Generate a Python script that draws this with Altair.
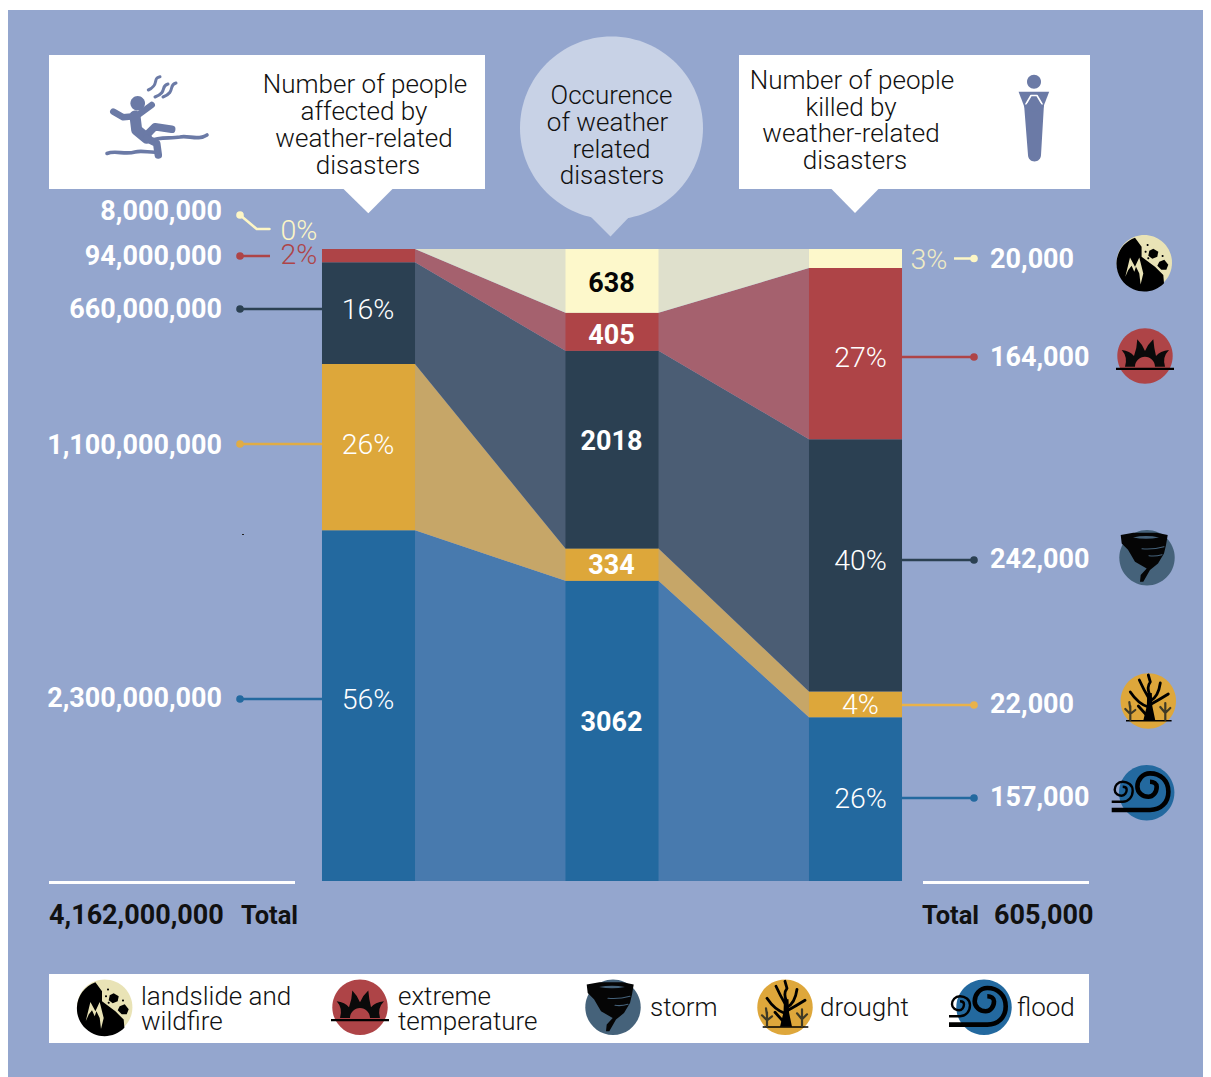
import altair as alt
import pandas as pd

# ---------- data ----------
categories = ["flood", "drought", "storm", "extreme temperature", "landslide and wildfire"]
affected_share = [55.5, 26.3, 16.1, 2.1, 0.0]
occurrence_share = [47.5, 5.1, 31.3, 6.0, 10.1]
killed_share = [25.9, 4.1, 39.9, 27.1, 3.0]
affected_labels = ["2,300,000,000", "1,100,000,000", "660,000,000", "94,000,000", "8,000,000"]
affected_pct = ["56%", "26%", "16%", "2%", "0%"]
occurrence_labels = ["3062", "334", "2018", "405", "638"]
killed_labels = ["157,000", "22,000", "242,000", "164,000", "20,000"]
killed_pct = ["26%", "4%", "40%", "27%", "3%"]

# ---------- styles and layout ----------
BG = "#94a6ce"
bar_colors = ["#23699f", "#dda73a", "#2b4052", "#ae4447", "#fdf8cb"]
band_colors = ["#487aae", "#c6a668", "#4b5d74", "#a5616e", "#dfe0cc"]
INK = "#111111"
ICON = "#6b7aa6"
FONT = "Roboto"
ONE = alt.Data(values=[{}])
HW = 0.191  # half a column, in column units
xs = alt.Scale(domain=[0, 2], range=[360.5, 847.5])
ys = alt.Scale(domain=[0, 100], range=[873, 241])

layers = []


def rect(x0, y0, x1, y1, color):
    layers.append(alt.Chart(ONE).mark_rect(color=color, opacity=1).encode(
        x=alt.value(x0 - 8), x2=alt.value(x1 - 8), y=alt.value(y0 - 8), y2=alt.value(y1 - 8)))


def fill(path, color, cx=0, cy=0):
    layers.append(alt.Chart(ONE).mark_point(shape=path, size=4, filled=True, fill=color, opacity=1).encode(
        x=alt.value(cx - 8), y=alt.value(cy - 8)))


def stroke(path, color, width, cx=0, cy=0, cap="round"):
    layers.append(alt.Chart(ONE).mark_point(shape=path, size=4, filled=False, stroke=color, strokeWidth=width,
                                            strokeCap=cap, strokeJoin="round", opacity=1).encode(
        x=alt.value(cx - 8), y=alt.value(cy - 8)))


def disc(cx, cy, r, color):
    fill(f"M{-r} 0A{r} {r} 0 1 1 {r} 0A{r} {r} 0 1 1 {-r} 0Z", color, cx, cy)


def text(rows, align="center", weight=300):
    df = pd.DataFrame(rows, columns=["t", "px", "py", "s", "c"])
    df["px"] -= 8
    df["py"] -= 7
    layers.append(alt.Chart(df).mark_text(font=FONT, fontWeight=weight, align=align, baseline="middle").encode(
        x=alt.X("px:Q", scale=None, axis=None),
        y=alt.Y("py:Q", scale=None, axis=None),
        text="t:N",
        size=alt.Size("s:Q", scale=None, legend=None),
        color=alt.Color("c:N", scale=None, legend=None)))


def leaders(rows):
    df = pd.DataFrame(rows, columns=["x0", "x1", "py", "c"])
    df[["x0", "x1", "py"]] -= 8
    layers.append(alt.Chart(df).mark_rule(strokeWidth=2.5).encode(
        x=alt.X("x0:Q", scale=None, axis=None), x2="x1:Q",
        y=alt.Y("py:Q", scale=None, axis=None),
        color=alt.Color("c:N", scale=None, legend=None)))


def dots(rows):
    df = pd.DataFrame(rows, columns=["px", "py", "c"])
    df[["px", "py"]] -= 8
    layers.append(alt.Chart(df).mark_circle(size=58, opacity=1).encode(
        x=alt.X("px:Q", scale=None, axis=None),
        y=alt.Y("py:Q", scale=None, axis=None),
        color=alt.Color("c:N", scale=None, legend=None)))


# ---------- icons ----------
def icon_landslide(cx, cy):
    disc(cx, cy, 27.7, "#e9e3b6")
    fill("M-9.3 -25L-2.7 -16L-2.7 -6L10.7 4L19 12.3L19.7 20.5A27.7 27.7 0 1 1 -9.3 -25Z", "#000000", cx, cy)
    fill("M5 -12L9 -14L14 -11L13 -6L8 -4L4 -7Z", "#000000", cx, cy)
    fill("M15 -1L20 -3L24 2L22 7L17 7L13 3Z", "#000000", cx, cy)
    for dx, dy, r in [(3.3, -17.7, 1), (1.3, -11, 1), (4, -4.5, 1), (18.3, -6.7, 1)]:
        disc(cx + dx, cy + dy, r, "#000000")
    fill("M-19 14L-14.3 -5.3L-9.3 4L-5 -5.3L-1 10.7L-3.7 21.7L-5 10.7L-8.3 4L-10 9L-12.7 3L-16 7.3Z", "#e9e3b6", cx, cy)


def icon_extreme(cx, cy):
    disc(cx, cy, 27.7, "#ae4447")
    fill("M-20 10.7Q-17 1 -23.3 -6Q-15 -5 -11 0Q-8 -8 -7.7 -16.7Q-3 -12 0 -5Q3 -12 8.3 -16.7Q9 -8 11 0Q15 -5 24 -6Q17 1 20 10.7L10 10.7A10 10 0 0 0 -10 10.7Z", "#0a0a0a", cx, cy)
    fill("M-29 11.7L29 11.7L29 14L-29 14Z", "#000000", cx, cy)


def icon_storm(cx, cy):
    disc(cx, cy, 27.7, "#45627a")
    fill("M-26.3 -22.7L-13.7 -25L9.7 -25L20.7 -22.7L19 -12.7L17 -4.3L11 5.7L3 12.3L-3.7 24L-7 24L-6.3 17.3L-0.3 10.7L-12 4L-19 -8L-25.3 -14.3Z", "#050505", cx, cy)
    fill("M-14 -20.3Q-1 -23 12 -20.3Q-1 -17.6 -14 -20.3Z", "#45627a", cx, cy)
    stroke("M-5 -9Q6 -8 17 -11M2 -2Q8 -1 15 -3", "#45627a", 1.1, cx, cy)


def icon_drought(cx, cy):
    disc(cx, cy, 27.7, "#dea73b")
    fill("M-22.3 19L23.3 19L23.3 20.5L-22.3 20.5Z", "#000000", cx, cy)
    fill("M-5 19.5L-1.5 5L-1 -8L3.5 -8L4 5L7 19.5Z", "#000000", cx, cy)
    stroke("M1.5 -6Q-2 -14 2 -19L0 -26M1 -2Q-5 -12 -9 -21M0 6Q-10 3 -18 -9M2 0Q10 -4 12 -18M3 3Q12 -2 20 -7M-1 15L-10 5", "#000000", 2.8, cx, cy)
    stroke("M-18 19L-18 5M-18 13L-23 8M-18 13L-13 9M-18 8L-19 1M17 19L17 2M17 12L12 6M17 12L22 7", "#3f3a26", 2.2, cx, cy)


def icon_flood(cx, cy):
    disc(cx, cy, 27.7, "#23699f")
    stroke("M-35 17.3L3.3 17.3C14 17.3 21.7 10 21.7 -1C21.7 -12 14 -19.3 3.3 -19.3C-4 -19.3 -9.3 -13 -9.3 -6C-9.3 0 -4 4 1.7 4C6 4 10 0 10 -6C10 -9 7 -11 3.3 -11", "#000000", 4.6, cx, cy, "butt")
    stroke("M-35 9L-24 9C-18 9 -14 4 -14 -2C-14 -8 -19 -11 -24 -11C-29 -11 -32 -7 -32 -3C-32 1 -28 3 -25 3C-22 3 -20 0 -20 -3C-20 -5 -22 -6 -24 -6", "#000000", 2.4, cx, cy, "butt")


# ---------- panels and callouts ----------
rect(6, 10, 1211, 1077, BG)
rect(49, 55, 485, 189, "#ffffff")
fill("M343 188.5L393 188.5L368.3 213.3Z", "#ffffff")
rect(739, 55, 1090, 189, "#ffffff")
fill("M831 188.5L879 188.5L855 213Z", "#ffffff")
disc(611.5, 128, 91.5, "#c8d2e6")
fill("M588 214L632 214L610.5 236.5Z", "#c8d2e6")
rect(49, 974, 1089, 1043, "#ffffff")
rect(49, 881, 295, 884, "#ffffff")
rect(923, 881, 1089, 884, "#ffffff")
rect(242, 534, 244, 535, "#222222")

# ---------- bands and stacked columns ----------
columns = [affected_share, occurrence_share, killed_share]
rows_band, rows_bar = [], []
for i, cat in enumerate(categories):
    stacks = [(sum(c[:i]), sum(c[:i + 1])) for c in columns]
    for x, (lo, hi) in zip([HW, 1 - HW, 1 + HW, 2 - HW], [stacks[0], stacks[1], stacks[1], stacks[2]]):
        rows_band.append({"cat": cat, "x": x, "lo": lo, "hi": hi})
    for col, (lo, hi) in enumerate(stacks):
        rows_bar.append({"cat": cat, "x0": col - HW, "x1": col + HW, "lo": lo, "hi": hi})

layers.append(alt.Chart(pd.DataFrame(rows_band)).mark_area(opacity=1).encode(
    x=alt.X("x:Q", scale=xs, axis=None),
    y=alt.Y("lo:Q", scale=ys, axis=None, stack=None),
    y2="hi:Q",
    color=alt.Color("cat:N", scale=alt.Scale(domain=categories, range=band_colors), legend=None)))
layers.append(alt.Chart(pd.DataFrame(rows_bar)).mark_rect(opacity=1).encode(
    x=alt.X("x0:Q", scale=xs, axis=None), x2="x1:Q",
    y=alt.Y("lo:Q", scale=ys, axis=None), y2="hi:Q",
    color=alt.Color("cat:N", scale=alt.Scale(domain=categories, range=bar_colors), legend=None)))

# ---------- leaders ----------
flood, drought, storm, extreme, slide = bar_colors
CREAM = "#fdf6c5"
leaders([(240, 322, 699, flood), (240, 322, 444, "#e0ac45"), (240, 322, 309, storm), (240, 270, 256, extreme),
         (902, 974, 798, flood), (902, 974, 705, "#e9b24a"), (902, 974, 560, storm), (902, 974, 357, extreme),
         (954, 974, 258.5, CREAM)])
stroke("M240 215L256.7 229L269.5 229", CREAM, 2.5)
dots([(240, 699, flood), (240, 444, "#e0ac45"), (240, 309, storm), (240, 256, extreme), (240, 215, CREAM),
      (974, 798, flood), (974, 705, "#e9b24a"), (974, 560, storm), (974, 357, extreme), (974, 258.5, CREAM)])

# ---------- value labels ----------
W = "#ffffff"
S = 27
P = 28.5
left_y = [698, 445, 309, 256, 211]
right_y = [797, 704, 559, 357, 259]
text([(l, 222, y, S, W) for l, y in zip(affected_labels, left_y)], align="right", weight=700)
text([(l, 990, y, S, W) for l, y in zip(killed_labels, right_y)], align="left", weight=700)
mid_y = [722, 565, 441, 335, 283]
mid_c = [W, W, W, W, "#050505"]
text([(l, 611.5, y, S, c) for l, y, c in zip(occurrence_labels, mid_y, mid_c)], weight=700)
pct_left_y = [699, 444, 309]
text([(l, 368, y, P, W) for l, y in zip(affected_pct[:3], pct_left_y)])
text([(affected_pct[3], 299, 254, P, extreme), (affected_pct[4], 299, 230, P, CREAM)])
pct_right_y = [798, 704, 560, 357]
text([(l, 860.5, y, P, W) for l, y in zip(killed_pct[:4], pct_right_y)])
text([(killed_pct[4], 929, 259, P, "#f0ecc4")])

# ---------- titles ----------
T = 26
text([("Number of people", 365, 84, T, INK), ("affected by", 364, 111, T, INK),
      ("weather-related", 364, 138, T, INK), ("disasters", 368, 165, T, INK),
      ("Occurence", 611.5, 95, T, INK), ("of weather", 607.5, 122, T, INK),
      ("related", 611.5, 149, T, INK), ("disasters", 612, 175, T, INK),
      ("Number of people", 852, 80, T, INK), ("killed by", 851, 107, T, INK),
      ("weather-related", 851, 133, T, INK), ("disasters", 855, 160, T, INK)])

# ---------- totals ----------
text([("4,162,000,000", 49, 915, S, INK), ("605,000", 994, 915, S, INK)], align="left", weight=700)
text([("Total", 241, 915, 25.5, INK), ("Total", 922, 915, 25.5, INK)], align="left", weight=700)

# ---------- legend ----------
text([("landslide and", 141, 996, T, INK), ("wildfire", 141, 1021, T, INK),
      ("extreme", 398, 996, T, INK), ("temperature", 398, 1021, T, INK),
      ("storm", 650, 1007, T, INK), ("drought", 820, 1007, T, INK), ("flood", 1017, 1007, T, INK)], align="left")

# ---------- pictograms ----------
for fn, cx, cy, lx in [(icon_landslide, 1144.3, 262.7, 104.7), (icon_extreme, 1145, 356, 360),
                       (icon_storm, 1147, 557.7, 613), (icon_drought, 1148.3, 701, 785),
                       (icon_flood, 1146.7, 792.7, 984)]:
    fn(cx, cy)
    fn(lx, 1007.3)

# falling figure
disc(137.7, 103.3, 7.3, ICON)
stroke("M113.3 111.7L123.3 117.3L136.7 116L151.7 105", ICON, 6.5)
stroke("M135 116L136.7 130L146.7 138.3", ICON, 11)
stroke("M146.7 135L155 126.7L171.7 129.3", ICON, 7.5)
stroke("M146.7 138.3L156.7 143.3L158.3 155", ICON, 7.5)
stroke("M107 153.5C115 150 125 155 135 152C142 150 150 153 158 152", ICON, 3.6)
stroke("M150 141C160 136 170 139 180 137C188 135 198 141 207 135", ICON, 3.6)
stroke("M160 76.7C152 78 160 85 148.3 90M176 83C168 85 176 92 163 97M168 84C160 86 168 92 155 97", ICON, 3)

# standing figure
disc(1034, 81.7, 7, ICON)
fill("M1018.6 91.7L1049.2 91.7L1043.4 106.7L1024.3 106.7Z", ICON)
fill("M1024 104L1034 94L1044 104L1041 155A6 6 0 0 1 1028 155Z", ICON)
stroke("M1026 104L1031 95.5L1037 95.5L1042 104", "#ffffff", 1.6)
fill("M1024 107L1034 97L1044 107L1034 112Z", ICON)

chart = alt.layer(*layers).resolve_scale(x="independent", y="independent", color="independent", size="independent").properties(
    width=1195, height=1069, padding=0, autosize=alt.AutoSizeParams(type="none"), background="#ffffff"
).configure_view(stroke=None)

chart.save("out.html", embed_options={"renderer": "svg", "actions": False})
